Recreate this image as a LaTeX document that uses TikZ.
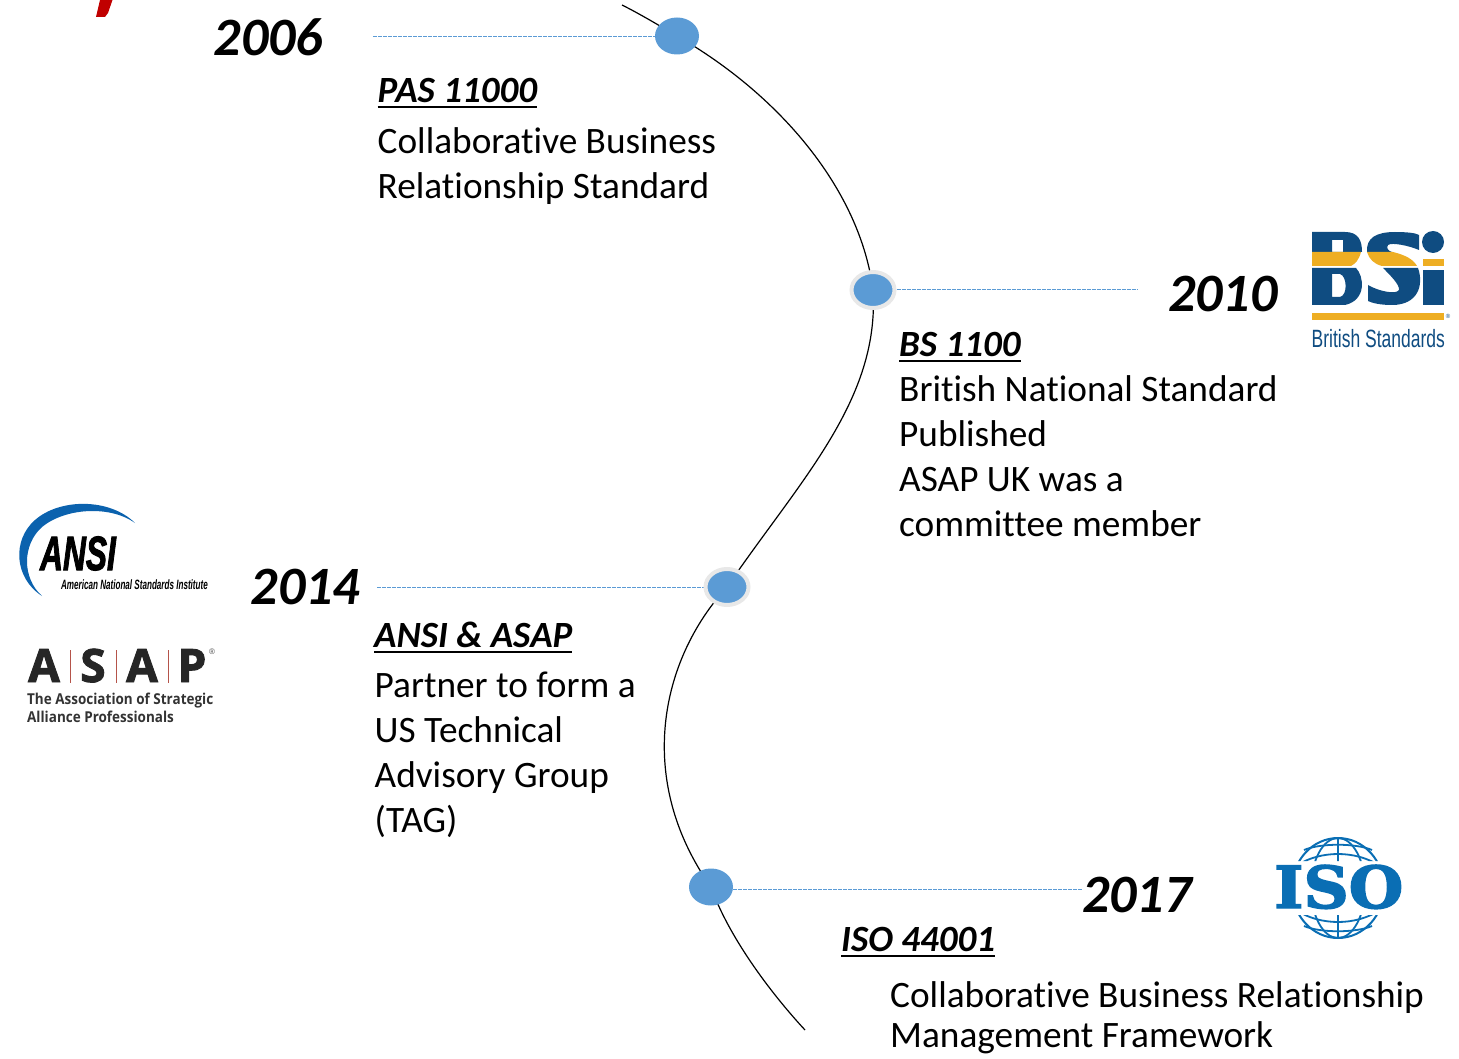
\documentclass[tikz,border=0pt]{standalone}
\usepackage{fontspec}
\setmainfont[Ligatures=NoCommon]{Carlito}
\newfontfamily\opensans{Open Sans}
\newfontfamily\opensansheavy[BoldFeatures={FakeBold=2}]{Open Sans}
\newfontfamily\libsans{Liberation Sans}
\newfontfamily\libheavy[BoldItalicFeatures={FakeBold=2.5}]{Liberation Sans}
\newfontfamily\djserif[BoldFeatures={FakeBold=2.5}]{DejaVu Serif}
\usetikzlibrary{backgrounds,shapes.geometric}
\definecolor{dotblue}{HTML}{5B9BD5}
\definecolor{halogrey}{HTML}{E8E8E8}
\definecolor{bsiblue}{HTML}{0F4C81}
\definecolor{bsiyellow}{HTML}{EEAE23}
\definecolor{isoblue}{HTML}{0A6EB4}
\definecolor{ansiblue}{HTML}{0B62AE}
\definecolor{asapred}{HTML}{B5544A}
\definecolor{titlered}{HTML}{C00000}
\newcommand{\headul}[1]{\setbox0\hbox{#1}\rlap{\raisebox{-5.5pt}{\rule{\wd0}{2pt}}}\box0}
\tikzset{
  x=1pt,y=-1pt,
  dot/.style={ellipse,fill=dotblue,minimum width=44pt,minimum height=37pt,inner sep=0pt},
  halodot/.style={dot,draw=halogrey,line width=4pt,minimum width=43pt,minimum height=36pt},
  year/.style={anchor=base west,inner sep=0pt,font=\fontsize{54}{54}\selectfont\bfseries\itshape},
  head/.style={anchor=base west,inner sep=0pt,font=\fontsize{37}{37}\selectfont\bfseries\itshape},
  body/.style={anchor=north west,inner sep=0pt,align=left,font=\fontsize{37.3}{45}\selectfont},
  spine/.style={draw=black,line width=1.2pt},
  leader/.style={draw=dotblue,line width=1.3pt,dash pattern=on 4pt off 1pt},
}
\begin{document}
\begin{tikzpicture}
\useasboundingbox (0,0) rectangle (1459,1059);
% clipped title fragment
\fill[titlered] (100,0) -- (112.5,0) -- (108,13) -- (105,17) -- (96,17) -- cycle;
% dots
\node[dot] (d1) at (677,36) {};
\node[halodot] (d2) at (873,290) {};
\node[halodot] (d3) at (727,587) {};
\node[dot] (d4) at (711,887) {};
\coordinate (top) at (622,5);
\coordinate (bot) at (805,1030);
\coordinate (l1) at (373,36.5);
\coordinate (l2) at (1138,289.5);
\coordinate (l3) at (377,587.5);
\coordinate (l4) at (1082,889.5);
\begin{scope}[on background layer]
\draw[spine] (top) .. controls (640,14) and (660,26) .. (d1.center)
  .. controls (780,95) and (860,190) .. (d2.center)
  .. controls (880,400) and (800,480) .. (d3.center)
  .. controls (660,660) and (635,780) .. (d4.center)
  .. controls (728,935) and (768,990) .. (bot);
\draw[leader] (l1) -- (d1.west |- l1);
\draw[leader] (d2.east |- l2) -- (l2);
\draw[leader] (l3) -- (d3.west |- l3);
\draw[leader] (d4.east |- l4) -- (l4);
\end{scope}
% years
\node[year] (y1) at (213.5,56) {2006};
\node[year] (y2) at (1168,312) {2010};
\node[year] (y3) at (250.5,604) {2014};
\node[year] (y4) at (1082,912) {2017};
% headings
\node[head] (h1) at (377.5,103) {\headul{PAS 11000}};
\node[head] (h2) at (899,356.5) {\headul{BS 1100}};
\node[head] (h3) at (374,647.5) {\headul{ANSI \& ASAP}};
\node[head] (h4) at (841,951.5) {\headul{ISO 44001}};
% bodies
\node[body] (b1) at (377.5,123) {\rule{0pt}{30pt}Collaborative Business\\Relationship Standard};
\node[body] (b2) at (899,371) {\rule{0pt}{30pt}British National Standard\\Published\\ASAP UK was a\\committee member};
\node[body] (b3) at (374.5,667) {\rule{0pt}{30pt}Partner to form a\\US Technical\\Advisory Group\\(TAG)};
\node[body,font=\fontsize{37.3}{40}\selectfont] (b4) at (890,977) {\rule{0pt}{30pt}Collaborative Business Relationship\\Management Framework};
% BSI logo
\fill[bsiblue,even odd rule]
  (1312,232) -- (1345,232) .. controls (1358,232) and (1362,240) .. (1362,252) -- (1312,252) -- cycle
  (1332,240) rectangle (1343,252);
\fill[bsiblue,even odd rule]
  (1312,268) -- (1356,268) .. controls (1364,276) and (1367,300) .. (1345,305) -- (1312,305) -- cycle
  (1332,274) -- (1340,274) .. controls (1347,276) and (1348,295) .. (1340,297) -- (1332,297) -- cycle;
\fill[bsiyellow] (1312,252) -- (1361,252) .. controls (1359,260) and (1355,264) .. (1351,266) -- (1312,266) -- cycle;
% S
\fill[bsiblue] (1367,252) .. controls (1366,238) and (1376,232) .. (1395,232) .. controls (1407,232) and (1416,233) .. (1419,235) -- (1419,250) .. controls (1410,246) and (1392,242) .. (1388,245) .. controls (1386,248) and (1388,251) .. (1392,252) -- cycle;
\fill[bsiyellow] (1367,252) -- (1393,252) .. controls (1405,255) and (1413,259) .. (1417,266) -- (1382,266) .. controls (1374,264) and (1369,259) .. (1367,252) -- cycle;
\fill[bsiblue] (1383,268) -- (1418,268) .. controls (1424,285) and (1418,305) .. (1392,305) .. controls (1380,305) and (1372,303) .. (1368,301) -- (1368,285) .. controls (1378,291) and (1396,295) .. (1399,290) .. controls (1400,285) and (1390,275) .. (1383,268) -- cycle;
% i
\fill[bsiblue] (1433,242) circle[radius=11];
\fill[bsiyellow] (1423,259) rectangle (1444,266);
\fill[bsiblue] (1423,270) rectangle (1444,305);
\fill[bsiyellow] (1312,313) rectangle (1444,320);
\node[anchor=base west,inner sep=0pt,text=bsiblue,xscale=0.70,font=\libsans\fontsize{25}{25}\selectfont] (bsit) at (1311.5,347) {British Standards};
\node[anchor=center,inner sep=0pt,text=bsiblue,font=\libsans\fontsize{6}{6}\selectfont] (bsir) at (1448,316) {®};
% ANSI logo
\fill[ansiblue] (135,523) .. controls (110,498) and (60,498) .. (35,520) .. controls (12,540) and (14,578) .. (42,596)
  .. controls (22,578) and (22,545) .. (42,527) .. controls (65,508) and (110,505) .. (135,523) -- cycle;
\node[anchor=base west,inner sep=0pt,xscale=0.66,font=\libheavy\fontsize{48}{48}\selectfont\bfseries\itshape] (ansit) at (40,570) {ANSI};
\node[anchor=base west,inner sep=0pt,xscale=0.6,font=\libsans\fontsize{13.5}{13.5}\selectfont\bfseries\itshape] (ansis) at (61,589) {American National Standards Institute};
% ASAP logo
\foreach \nm/\px/\lt in {a1/44/A,a2/93/S,a3/142/A,a4/192/P}
  \node[anchor=base,inner sep=0pt,text=black!85,font=\opensansheavy\fontsize{46}{46}\selectfont\bfseries] (\nm) at (\px,682) {\lt};
\foreach \sx in {70,116,168}
  \draw[asapred,line width=1pt] (\sx,650) -- (\sx,683);
\node[anchor=center,inner sep=0pt,text=black!70,font=\libsans\fontsize{8}{8}\selectfont] (asapr) at (212,652) {®};
\node[anchor=base west,inner sep=0pt,xscale=0.9,text=black!80,font=\opensans\fontsize{15}{18}\selectfont\bfseries] (as1) at (27,704) {The Association of Strategic};
\node[anchor=base west,inner sep=0pt,xscale=0.9,text=black!80,font=\opensans\fontsize{15}{18}\selectfont\bfseries] (as2) at (27,722) {Alliance Professionals};
% ISO logo
\begin{scope}
\clip (1274,830) rectangle (1405,861) (1274,915) rectangle (1405,945);
\draw[isoblue,line width=2pt] (1338,888) ellipse[x radius=46,y radius=50];
\draw[isoblue,line width=1.8pt] (1338,888) ellipse[x radius=27,y radius=50];
\draw[isoblue,line width=1.8pt] (1338,838) -- (1338,938);
\draw[isoblue,line width=1.8pt] (1304,850) .. controls (1320,843) and (1356,843) .. (1372,850);
\draw[isoblue,line width=1.8pt] (1296,866) .. controls (1320,850) and (1356,850) .. (1380,866);
\draw[isoblue,line width=1.8pt] (1304,926) .. controls (1320,933) and (1356,933) .. (1372,926);
\draw[isoblue,line width=1.8pt] (1296,910) .. controls (1320,926) and (1356,926) .. (1380,910);
\end{scope}
\node[anchor=base west,inner sep=0pt,text=isoblue,xscale=1.08,font=\djserif\fontsize{58}{58}\selectfont\bfseries] (isot) at (1274,908) {ISO};
\end{tikzpicture}
\end{document}
